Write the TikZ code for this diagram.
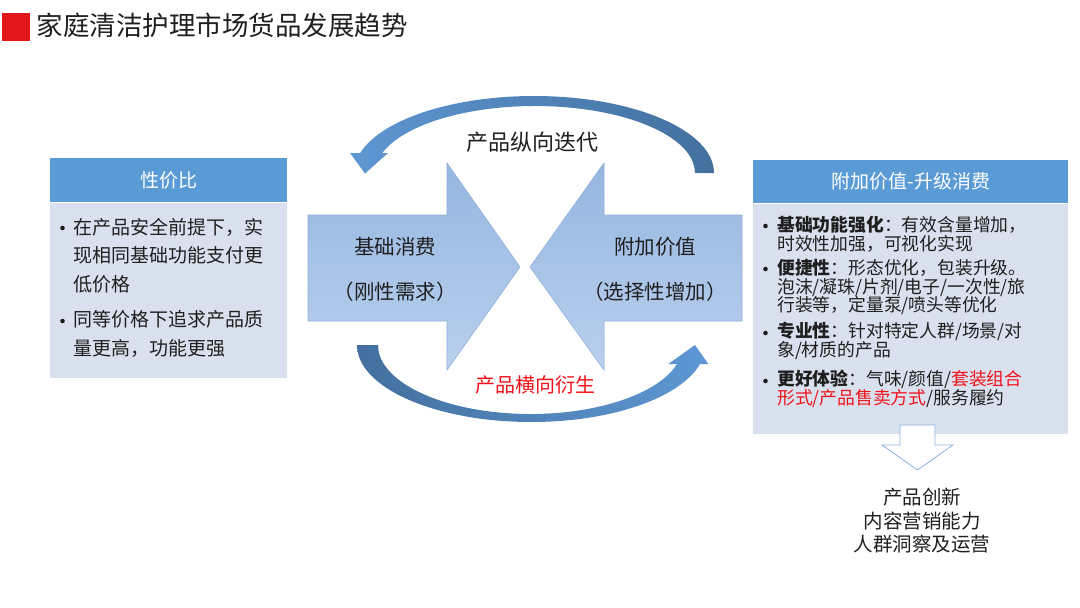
\documentclass[tikz,border=0pt]{standalone}
\usepackage{fontspec}
\setmainfont{Noto Sans CJK SC}
\usetikzlibrary{calc,positioning}

\definecolor{titlered}{HTML}{E3161C}
\definecolor{hdrblue}{HTML}{5B9BD5}
\definecolor{panelblue}{HTML}{D9E1EF}
\definecolor{arrowtop}{HTML}{95B6E0}
\definecolor{arrowbot}{HTML}{BAD0EE}
\definecolor{arrowline}{HTML}{8DAFDB}
\definecolor{turnlight}{HTML}{5E97D3}
\definecolor{turndark}{HTML}{43709E}
\definecolor{outlineblue}{HTML}{8EB0DD}
\definecolor{txtdark}{HTML}{1F1F1F}
\definecolor{hotred}{HTML}{F2131A}

\begin{document}
\begin{tikzpicture}[x=1pt, y=1pt,
                    hdr/.style={fill=hdrblue, text=white, font=\fontsize{19}{19}\selectfont, inner sep=0, anchor=north west},
                    panel/.style={fill=panelblue, inner sep=0, anchor=north west},
                    dot/.style={circle, fill=txtdark, inner sep=0, minimum size=4.6},
                    ltext/.style={text=txtdark, font=\fontsize{19}{28.5}\selectfont, align=left, anchor=west, inner sep=0},
                    rtext/.style={text=txtdark, font=\fontsize{17.8}{18.7}\selectfont, align=left, anchor=west, inner sep=0},
                    bigarrow/.style={draw=arrowline, line width=0.6pt, top color=arrowtop, bottom color=arrowbot},
                    atext/.style={text=txtdark, font=\fontsize{20.5}{20.5}\selectfont, inner sep=0},
                    downarrow/.style={draw=outlineblue, fill=white, line width=0.8pt}
]

\useasboundingbox (0,0) rectangle (1080,-608);
\fill[white] (0,0) rectangle (1080,-608);

% title
\node [fill=titlered, minimum width=28.5, minimum height=28, inner sep=0, anchor=north west] at (1.5,-12.7) (titlebar) {};
\node [text=txtdark, font=\fontsize{26.5}{26.5}\selectfont, inner sep=0, anchor=west] at (36.5,-25.5) (title) {家庭清洁护理市场货品发展趋势};

% left panel
\node [hdr, minimum width=237, minimum height=44] at (50,-158) (pjbhead) {性价比};
\node [panel, minimum width=237, minimum height=175] at (pjbhead.south west) (pjbbody) {};
\node [dot] at (62.5,-228) (pb1) {};
\node [ltext] at (73,-255.5) (pt1) {在产品安全前提下，实\\现相同基础功能支付更\\低价格};
\node [dot] at (62.5,-321) (pb2) {};
\node [ltext] at (73,-334) (pt2) {同等价格下追求产品质\\量更高，功能更强};

% right panel
\node [hdr, minimum width=315, minimum height=43] at (753,-160) (fjhead) {附加价值-升级消费};
\node [panel, minimum width=315, minimum height=230] at (fjhead.south west) (fjbody) {};
\node [dot] at (765.5,-226) (fb1) {};
\node [rtext] at (777,-234) (ft1) {\textbf{基础功能强化}：有效含量增加，\\时效性加强，可视化实现};
\node [dot] at (765.5,-269) (fb2) {};
\node [rtext] at (777,-287) (ft2) {\textbf{便捷性}：形态优化，包装升级。\\泡沫/凝珠/片剂/电子/一次性/旅\\行装等，定量泵/喷头等优化};
\node [dot] at (765.5,-333) (fb3) {};
\node [rtext] at (777,-341) (ft3) {\textbf{专业性}：针对特定人群/场景/对\\象/材质的产品};
\node [dot] at (765.5,-381) (fb4) {};
\node [rtext] at (777,-389) (ft4) {\textbf{更好体验}：气味/颜值/\textcolor{hotred}{套装组合}\\\textcolor{hotred}{形式/产品售卖方式}/服务履约};

% two big arrows
\path[bigarrow] (308,-215) -- (447,-215) -- (447,-163) -- (520,-267) -- (447,-370) -- (447,-321) -- (308,-321) -- cycle;
\path[bigarrow] (742,-215) -- (604,-215) -- (604,-163) -- (530,-267) -- (604,-370) -- (604,-321) -- (742,-321) -- cycle;
\node [atext] at (395,-247) (jc1) {基础消费};
\node [atext] at (395,-292) (jc2) {（刚性需求）};
\node [atext] at (655,-247) (fj1) {附加价值};
\node [atext] at (655,-292) (fj2) {（选择性增加）};

% curved arrows
\path[left color=turnlight, right color=turndark]
    (714,-173) arc[start angle=0, end angle=165, x radius=180, y radius=77]
    -- (350,-153) -- (365,-173.5) -- (388,-153)
    -- (382.3,-153) arc[start angle=162.63, end angle=0, x radius=160, y radius=67]
    -- cycle;
\path[left color=turndark, right color=turnlight]
    (357,-345) arc[start angle=180, end angle=345.71, x radius=174.2, y radius=77]
    -- (708.3,-364) -- (695,-345) -- (668.3,-364)
    -- (677.1,-364) arc[start angle=344.02, end angle=180, x radius=152.5, y radius=69]
    -- cycle;
\node [text=txtdark, font=\fontsize{22}{22}\selectfont, inner sep=0] at (532,-142) (zxdd) {产品纵向迭代};
\node [text=hotred, font=\fontsize{20}{20}\selectfont, inner sep=0] at (535,-385) (hxys) {产品横向衍生};

% outcome
\draw[downarrow] (900,-425) -- (900,-445) -- (882,-445) -- (917.5,-470) -- (953,-445) -- (935,-445) -- (935,-425) -- cycle;
\node [text=txtdark, font=\fontsize{19.5}{23.5}\selectfont, align=center, inner sep=0] at (922,-521) (cxnl) {产品创新\\内容营销能力\\人群洞察及运营};

\end{tikzpicture}
\end{document}
